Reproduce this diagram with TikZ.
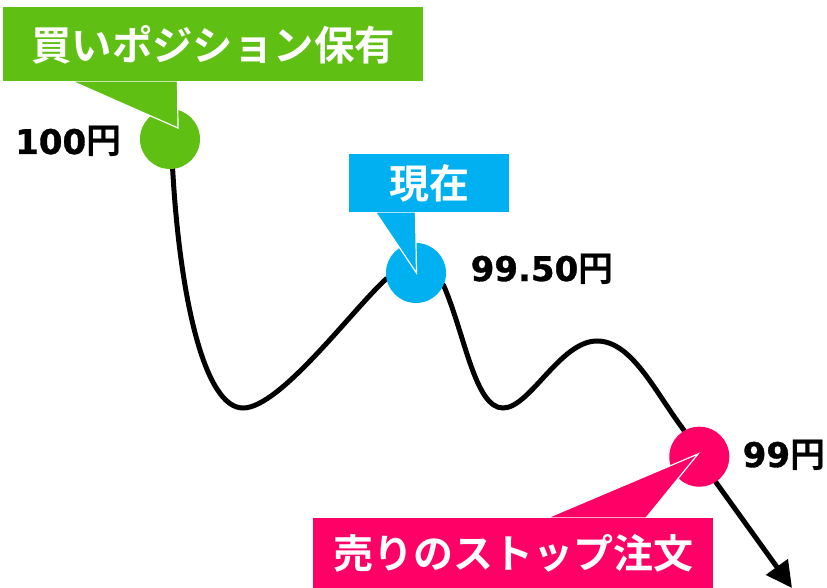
\documentclass[tikz,border=0pt]{standalone}
\usepackage{fontspec}
\usetikzlibrary{arrows.meta,backgrounds}
\setmainfont{DejaVu Sans}[BoldFeatures={FakeBold=1}]
\newfontfamily\cjkb{Noto Sans CJK JP}[BoldFont=* Bold]
\definecolor{cgreen}{HTML}{5FBF13}
\definecolor{cblue}{HTML}{00B0F0}
\definecolor{cpink}{HTML}{FF0066}
\tikzset{
  x=1pt,y=-1pt,
  dot/.style={circle,minimum size=60pt,inner sep=0pt,fill=#1},
  price/.style={font=\fontsize{34}{34}\selectfont\bfseries,text=black,inner sep=0pt},
  box/.style={inner sep=0pt,font=\cjkb\bfseries\fontsize{40}{40}\selectfont,text=white,fill=#1},
  tail/.style={fill=#1,draw=white,line width=1.2pt,line join=miter},
  curve/.style={line width=5pt,black,line cap=round}
}
\newcommand{\yenmark}{{\cjkb\bfseries\fontsize{35}{35}\selectfont 円}}
\begin{document}
\begin{tikzpicture}
\useasboundingbox (0,0) rectangle (827,588);
\node[dot=cgreen] (a) at (170,139) {};
\node[dot=cblue] (b) at (416,273) {};
\node[dot=cpink] (d) at (699.3,456.7) {};
\coordinate (t1) at (243,408);
\coordinate (t2) at (503,408);
\coordinate (t3) at (597,341);
\coordinate (end) at (792,588);
\begin{scope}[on background layer]
\draw[curve] (a.-85) .. controls (180,300) and (205,408) .. (t1)
  .. controls (280,408) and (352,310) .. (b.191);
\draw[curve] (b.-24) .. controls (465,335) and (475,408) .. (t2)
  .. controls (530,408) and (560,341) .. (t3)
  .. controls (632,341) and (655,392) .. (d.120);
\draw[curve,-{Triangle[length=26pt,width=26pt]}] (d.-57) -- (end);
\end{scope}
% callouts
\coordinate (ga) at (71.5,81); \coordinate (gb) at (177.5,81); \coordinate (gt) at (178,128);
\coordinate (ba) at (375.5,212); \coordinate (bb) at (415.5,212); \coordinate (bt) at (416.5,273);
\coordinate (pa) at (547,518); \coordinate (pb) at (646,518); \coordinate (pt) at (698,454);
\path[tail=cgreen] (ga) -- (gt) -- (gb) -- cycle;
\path[tail=cblue] (ba) -- (bt) -- (bb) -- cycle;
\path[tail=cpink] (pa) -- (pt) -- (pb) -- cycle;
\node[box=cgreen,minimum width=420pt,minimum height=74pt] (gbox) at (213,44.5) {\fontsize{40.4}{40.4}\selectfont 買いポジション保有};
\node[box=cblue,minimum width=160pt,minimum height=58pt] (bbox) at (429,183) {現在};
\node[box=cpink,minimum width=400pt,minimum height=70pt] (pbox) at (513,553) {売りのストップ注文};
% labels
\node[price,anchor=base west] (l1) at (15,154) {100\yenmark};
\node[price,anchor=base west] (l2) at (470.5,281) {99.50\yenmark};
\node[price,anchor=base west] (l3) at (742.5,467) {99\yenmark};
\end{tikzpicture}
\end{document}
